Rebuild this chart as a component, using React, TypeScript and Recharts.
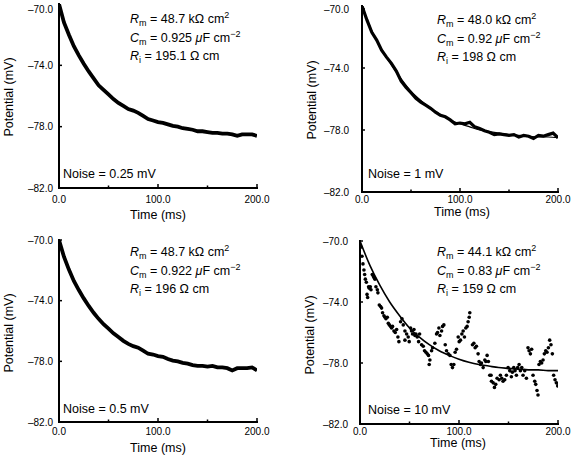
import React from 'react'
import { ComposedChart, Line, Scatter, XAxis, YAxis } from 'recharts'

const FONT = '"Liberation Sans", Arial, Helvetica, sans-serif'

// axis ticks
const timeTicks = [0, 50, 100, 150, 200]
const potentialTicks = [-82, -78, -74, -70]

// recorded traces, sampled every 5 ms
const traceTimes = [
  0, 5, 10, 15, 20, 25, 30, 35, 40, 45, 50, 55, 60, 65, 70, 75, 80, 85, 90, 95, 100,
  105, 110, 115, 120, 125, 130, 135, 140, 145, 150, 155, 160, 165, 170, 175, 180, 185, 190, 195, 200,
]
const trace025 = [
  -70.0, -71.2, -72.0, -72.75, -73.35, -73.9, -74.4, -74.85, -75.3, -75.6, -75.9, -76.2, -76.45, -76.65,
  -76.85, -76.95, -77.1, -77.3, -77.5, -77.6, -77.7, -77.75, -77.85, -77.95, -78.0, -78.1, -78.15, -78.2,
  -78.3, -78.3, -78.35, -78.4, -78.4, -78.45, -78.45, -78.5, -78.6, -78.5, -78.5, -78.5, -78.6,
]
const trace1 = [
  -70.0, -70.9, -71.7, -72.2, -72.85, -73.3, -73.7, -74.2, -74.85, -75.25, -75.6, -75.95, -76.2, -76.4,
  -76.6, -76.85, -77.05, -77.15, -77.35, -77.6, -77.55, -77.6, -77.5, -77.8, -77.9, -78.05, -78.15, -78.3,
  -78.25, -78.3, -78.35, -78.3, -78.45, -78.35, -78.4, -78.55, -78.35, -78.4, -78.3, -78.2, -78.5,
]
const trace05 = [
  -70.0, -71.1, -71.95, -72.7, -73.3, -73.85, -74.35, -74.8, -75.2, -75.55, -75.85, -76.15, -76.4, -76.65,
  -76.85, -77.0, -77.1, -77.3, -77.5, -77.55, -77.65, -77.7, -77.85, -77.95, -78.0, -78.1, -78.15, -78.25,
  -78.3, -78.3, -78.35, -78.3, -78.4, -78.4, -78.45, -78.6, -78.45, -78.45, -78.45, -78.4, -78.6,
]

// fitted curves, every 10 ms
const fitTimes = [0, 10, 20, 30, 40, 50, 60, 70, 80, 90, 100, 110, 120, 130, 140, 150, 160, 170, 180, 190, 200]
const fit1 = [
  -70.0, -71.6, -72.8, -73.8, -74.7, -75.5, -76.1, -76.6, -77.0, -77.35, -77.6, -77.8, -78.0, -78.1, -78.2,
  -78.3, -78.35, -78.4, -78.45, -78.45, -78.5,
]
const fit10 = [
  -70.0, -71.6, -72.9, -74.0, -74.9, -75.7, -76.3, -76.8, -77.2, -77.5, -77.75, -77.95, -78.1, -78.2, -78.3,
  -78.35, -78.4, -78.45, -78.45, -78.5, -78.5,
]

// 10 mV noise samples
const noisyTimes = [
  1.0, 2.0, 3.0, 4.0, 4.7, 5.4, 6.4, 7.1, 7.7, 8.7, 9.4, 10.4, 11.1, 12.4, 13.4, 14.1, 15.1, 16.1, 17.5, 18.1,
  19.5, 20.8, 21.8, 22.8, 24.2, 25.2, 26.2, 27.6, 28.6, 29.6, 30.9, 31.9, 32.9, 34.3, 35.6, 37.0, 38.3, 39.3,
  41.0, 42.4, 43.7, 45.4, 45.4, 47.1, 48.7, 49.7, 51.1, 52.1, 53.1, 54.5, 55.5, 56.5, 57.8, 59.2, 60.2,
  62.2, 63.9, 65.2, 66.6, 67.9, 69.2, 69.9, 70.6, 72.3, 73.3, 75.6, 77.3, 78.3, 79.7, 80.7, 82.4, 83.4, 84.7,
  86.1, 87.4, 89.1, 90.8, 92.1, 93.4, 94.8, 96.1, 97.5, 99.2, 100.2, 101.5, 102.9, 104.2, 105.5, 106.9,
  108.2, 109.2, 110.3, 110.9, 113.6, 115.0, 116.3, 117.6, 119.3, 120.3, 121.7, 122.7, 124.4, 126.1, 127.1,
  128.4, 129.7, 131.1, 132.4, 132.8, 134.5, 135.8, 137.1, 138.5, 140.5, 141.8, 143.2, 144.5, 146.2, 147.9,
  149.6, 151.3, 152.9, 153.9, 155.3, 156.6, 158.0, 159.3, 160.7, 162.0, 163.4, 164.7, 166.4, 168.1, 169.7,
  170.8, 172.1, 173.4, 174.8, 176.5, 177.5, 178.8, 179.8, 180.8, 182.2, 183.5, 184.9, 186.2, 187.6, 188.9,
  190.3, 191.6, 192.9, 194.3, 195.6, 197.0, 198.3, 199.7,
]
const noisyValues = [
  -70.4, -71.0, -71.5, -71.9, -72.2, -72.5, -72.7, -73.5, -73.7, -73.0, -73.1, -73.0, -73.2, -72.2, -72.3,
  -72.4, -72.5, -73.0, -73.2, -73.4, -74.2, -74.3, -74.4, -74.7, -74.9, -75.0, -75.1, -75.0, -75.4, -75.5,
  -75.6, -75.7, -75.6, -75.9, -76.0, -75.8, -76.3, -76.6, -75.3, -75.1, -75.5, -75.9, -76.5, -76.1, -76.3,
  -76.6, -75.7, -75.9, -76.1, -75.8, -76.2, -76.1, -76.3, -76.6, -76.1, -76.8, -76.9, -77.2, -77.3, -77.4,
  -77.5, -78.1, -77.8, -77.2, -77.0, -76.7, -76.1, -76.0, -75.7, -76.2, -75.9, -75.6, -75.5, -76.8, -77.2,
  -77.4, -77.5, -78.1, -78.3, -78.1, -77.3, -77.1, -76.3, -76.6, -76.5, -76.1, -75.9, -76.3, -75.7, -75.6,
  -75.3, -75.0, -74.7, -76.8, -76.7, -77.0, -76.9, -77.4, -77.9, -78.1, -78.0, -78.3, -77.8, -77.9, -77.5,
  -77.9, -78.8, -78.8, -79.2, -79.3, -79.6, -79.4, -79.0, -79.1, -78.8, -79.0, -79.2, -79.1, -78.8, -78.3,
  -78.5, -78.9, -78.6, -78.3, -78.5, -78.8, -78.3, -78.1, -78.5, -78.3, -78.8, -78.5, -79.0, -77.0, -77.2,
  -77.4, -77.1, -78.8, -79.2, -79.4, -79.8, -80.1, -78.1, -77.9, -78.0, -77.8, -77.4, -77.2, -77.3, -77.0,
  -76.5, -76.8, -77.4, -78.8, -79.1, -79.3, -79.5,
]

const toRows = (ts: number[], vs: number[]) => ts.map((t, i) => ({ t, v: vs[i] }))

type Box = { l: number; t: number; r: number; b: number }

interface PanelProps {
  x0: number
  y0: number
  w: number
  h: number
  plot: Box
  trace?: { t: number; v: number }[]
  fit?: { t: number; v: number }[]
  dots?: { t: number; v: number }[]
  xTickDy: number
  yTickGap: number
}

const XTick = (props: any) => {
  const { x, y, payload, dy } = props
  const major = payload.value % 100 === 0
  return (
    <g>
      <line x1={x} x2={x} y1={y} y2={y - (major ? 4 : 2.5)} stroke="#000" strokeWidth={1.5} />
      {major && (
        <text x={x} y={y + dy + 3.5} textAnchor="middle" fontSize={10} fontFamily={FONT} fill="#000">
          {payload.value.toFixed(1)}
        </text>
      )}
    </g>
  )
}

const YTick = (props: any) => {
  const { x, y, payload, gap } = props
  return (
    <g>
      <line x1={x} x2={x + 3} y1={y} y2={y} stroke="#000" strokeWidth={1.5} />
      <text x={x - gap} y={y + 3.5} textAnchor="end" fontSize={10} fontFamily={FONT} fill="#000">
        {payload.value.toFixed(1).replace('-', '–')}
      </text>
    </g>
  )
}

const Dot = (props: any) => <circle cx={props.cx} cy={props.cy} r={1.8} fill="#000" />

function Panel({ x0, y0, w, h, plot, trace, fit, dots, xTickDy, yTickGap }: PanelProps) {
  const yw = 40
  const xh = 20
  const margin = {
    top: plot.t - y0,
    left: plot.l - x0 - yw,
    right: x0 + w - plot.r,
    bottom: y0 + h - plot.b - xh,
  }
  return (
    <div style={{ position: 'absolute', left: x0, top: y0 }}>
      <ComposedChart width={w} height={h} margin={margin} data={trace || fit}>
        <XAxis
          dataKey="t"
          type="number"
          domain={[0, 200]}
          ticks={timeTicks}
          allowDataOverflow
          height={xh}
          tickSize={0}
          tickMargin={0}
          tickLine={false}
          axisLine={{ stroke: '#000', strokeWidth: 2, strokeLinecap: 'square' }}
          tick={(p: any) => <XTick {...p} dy={xTickDy} />}
        />
        <YAxis
          dataKey="v"
          type="number"
          domain={[-82, -70]}
          ticks={potentialTicks}
          allowDataOverflow
          width={yw}
          tickSize={0}
          tickMargin={0}
          tickLine={false}
          axisLine={{ stroke: '#000', strokeWidth: 2, strokeLinecap: 'square' }}
          tick={(p: any) => <YTick {...p} gap={yTickGap} />}
        />
        {fit && (
          <Line
            data={fit}
            dataKey="v"
            type="monotone"
            stroke="#000"
            strokeWidth={trace ? 1.2 : 1.6}
            dot={false}
            isAnimationActive={false}
          />
        )}
        {trace && (
          <Line
            data={trace}
            dataKey="v"
            type="linear"
            stroke="#000"
            strokeWidth={fit ? 3.2 : 3.8}
            dot={false}
            isAnimationActive={false}
          />
        )}
        {dots && <Scatter data={dots} dataKey="v" shape={Dot} isAnimationActive={false} />}
      </ComposedChart>
    </div>
  )
}

const sub: React.CSSProperties = { fontSize: 9, position: 'relative', top: 3 }
const sup: React.CSSProperties = { fontSize: 9, position: 'relative', top: -5 }

function Params({ left, top, rm, cm, ri }: { left: number; top: number; rm: string; cm: string; ri: string }) {
  return (
    <div style={{ position: 'absolute', left, top, fontSize: 12.5, lineHeight: '17.5px', whiteSpace: 'nowrap' }}>
      <div>
        <i>R</i>
        <span style={sub}>m</span> = {rm} kΩ cm<span style={sup}>2</span>
      </div>
      <div>
        <i>C</i>
        <span style={sub}>m</span> = {cm} <i>μ</i>F cm<span style={sup}>−2</span>
      </div>
      <div>
        <i>R</i>
        <span style={sub}>i</span> = {ri} Ω cm
      </div>
    </div>
  )
}

function Label({ x, y, text, rotate }: { x: number; y: number; text: string; rotate?: boolean }) {
  return (
    <div
      style={{
        position: 'absolute',
        left: x,
        top: y,
        fontSize: 12.5,
        lineHeight: '13px',
        whiteSpace: 'nowrap',
        transform: `translate(-50%, -50%)${rotate ? ' rotate(-90deg)' : ''}`,
      }}
    >
      {text}
    </div>
  )
}

function Noise({ left, top, value }: { left: number; top: number; value: string }) {
  return (
    <div style={{ position: 'absolute', left, top, fontSize: 12.5, lineHeight: '17.5px', whiteSpace: 'nowrap' }}>
      Noise = {value} mV
    </div>
  )
}

export default function App() {
  return (
    <div
      style={{
        position: 'absolute',
        left: 0,
        top: 0,
        width: 575,
        height: 456,
        background: '#fff',
        fontFamily: FONT,
        color: '#000',
        overflow: 'hidden',
      }}
    >
      <Panel x0={0} y0={0} w={290} h={228} plot={{ l: 59, t: 4, r: 257, b: 188 }}
        trace={toRows(traceTimes, trace025)} xTickDy={11} yTickGap={6} />
      <Panel x0={290} y0={0} w={285} h={228} plot={{ l: 362, t: 6, r: 558, b: 192 }}
        trace={toRows(traceTimes, trace1)} fit={toRows(fitTimes, fit1)} xTickDy={7} yTickGap={13} />
      <Panel x0={0} y0={228} w={290} h={228} plot={{ l: 59, t: 240, r: 257, b: 422 }}
        trace={toRows(traceTimes, trace05)} xTickDy={9} yTickGap={6} />
      <Panel x0={290} y0={228} w={285} h={228} plot={{ l: 360, t: 241, r: 558, b: 424 }}
        fit={toRows(fitTimes, fit10)} dots={toRows(noisyTimes, noisyValues)} xTickDy={7} yTickGap={12} />

      <Params left={130} top={11} rm="48.7" cm="0.925" ri="195.1" />
      <Params left={437} top={12} rm="48.0" cm="0.92" ri="198" />
      <Params left={130} top={244} rm="48.7" cm="0.922" ri="196" />
      <Params left={437} top={244} rm="44.1" cm="0.83" ri="159" />

      <Noise left={63} top={166} value="0.25" />
      <Noise left={368} top={166} value="1" />
      <Noise left={63} top={401} value="0.5" />
      <Noise left={368} top={402} value="10" />

      <Label x={9} y={97} text="Potential (mV)" rotate />
      <Label x={312} y={100} text="Potential (mV)" rotate />
      <Label x={9} y={333} text="Potential (mV)" rotate />
      <Label x={310} y={335} text="Potential (mV)" rotate />

      <Label x={158} y={215} text="Time (ms)" />
      <Label x={462} y={212} text="Time (ms)" />
      <Label x={158} y={448} text="Time (ms)" />
      <Label x={458} y={443} text="Time (ms)" />
    </div>
  )
}
